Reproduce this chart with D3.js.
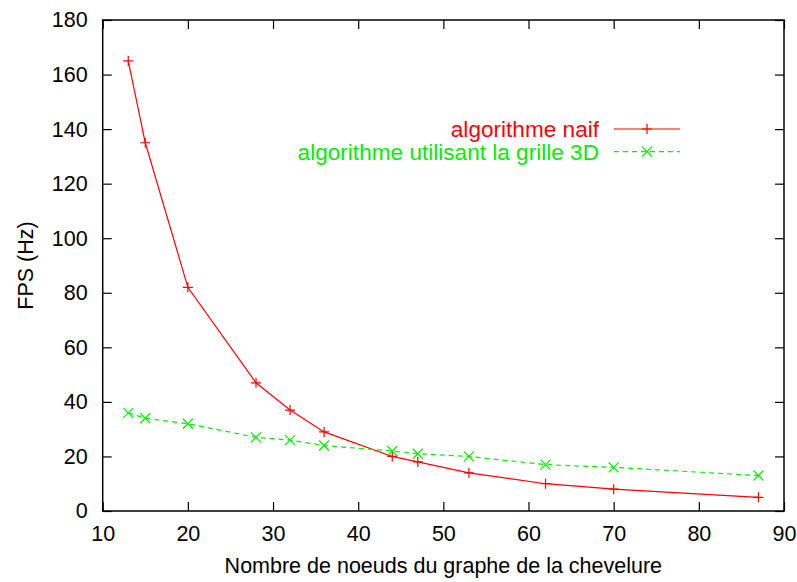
<!DOCTYPE html>
<html>
<head>
<meta charset="utf-8">
<script src="https://cdn.jsdelivr.net/npm/d3@7"></script>
<style>
  body { margin: 0; background: #fff; }
  text { font-family: "Liberation Sans", Arial, sans-serif; }
</style>
</head>
<body>
<svg id="chart" width="797" height="582"></svg>
<script>
// node counts along the x axis
const nodes = [13, 15, 20, 28, 32, 36, 44, 47, 53, 62, 70, 87];
// FPS values for each algorithm
const fps_naif = [165, 135, 82, 47, 37, 29, 20, 18, 14, 10, 8, 5];
const fps_grille = [36, 34, 32, 27, 26, 24, 22, 21, 20, 17, 16, 13];
const xTicks = [10, 20, 30, 40, 50, 60, 70, 80, 90];
const yTicks = [0, 20, 40, 60, 80, 100, 120, 140, 160, 180];
const series_names = ["algorithme naif", "algorithme utilisant la grille 3D"];

let svg = d3.select('#chart'),
	margin = {left: 102.7, right: 13, top: 20, bottom: 71},
	W = 797, H = 582,
	tickLen = 9,
	fontSize = 21.5,
	legendFont = 22.6,
	markSize = 5;

let x = d3.scaleLinear()
	.domain([10, 90])
	.range([margin.left, W - margin.right]);
let y = d3.scaleLinear()
	.domain([0, 180])
	.range([H - margin.bottom, margin.top]);

let series = [
	{name: series_names[0], values: fps_naif, color: '#ff0000', dash: null, mark: 'plus'},
	{name: series_names[1], values: fps_grille, color: '#00ee00', dash: '5,4', mark: 'cross'}
];

// axes: gnuplot style, ticks inward on all four sides
let x0 = x.range()[0], x1 = x.range()[1],
	y0 = y.range()[0], y1 = y.range()[1];

svg.append('g')
	.attr('transform', `translate(0, ${y0})`)
	.call(d3.axisBottom(x).tickValues(xTicks).tickSizeInner(-tickLen).tickSizeOuter(0).tickPadding(15))
	.call(g => g.select('.domain').remove());
svg.append('g')
	.attr('transform', `translate(0, ${y1})`)
	.call(d3.axisTop(x).tickValues(xTicks).tickSizeInner(-tickLen).tickSizeOuter(0).tickFormat(''))
	.call(g => g.select('.domain').remove());
svg.append('g')
	.attr('transform', `translate(${x0}, 0)`)
	.call(d3.axisLeft(y).tickValues(yTicks).tickSizeInner(-tickLen).tickSizeOuter(0).tickPadding(15))
	.call(g => g.select('.domain').remove());
svg.append('g')
	.attr('transform', `translate(${x1}, 0)`)
	.call(d3.axisRight(y).tickValues(yTicks).tickSizeInner(-tickLen).tickSizeOuter(0).tickFormat(''))
	.call(g => g.select('.domain').remove());

svg.selectAll('.tick line')
	.attr('stroke', '#000')
	.attr('stroke-width', 1.2);
svg.selectAll('.tick text')
	.attr('fill', '#000')
	.style('font-size', `${fontSize}px`)
	.style('font-family', '"Liberation Sans", Arial, sans-serif');

svg.append('rect')
	.attr('x', x0)
	.attr('y', y1)
	.attr('width', x1 - x0)
	.attr('height', y0 - y1)
	.attr('fill', 'none')
	.attr('stroke', '#000')
	.attr('stroke-width', 1.5);

// axis titles
svg.append('text')
	.attr('x', (x0 + x1) / 2)
	.attr('y', 573)
	.attr('text-anchor', 'middle')
	.style('font-size', `${fontSize}px`)
	.text('Nombre de noeuds du graphe de la chevelure');

svg.append('text')
	.attr('transform', `translate(33, ${(y0 + y1) / 2}) rotate(-90)`)
	.attr('text-anchor', 'middle')
	.style('font-size', `${fontSize}px`)
	.text('FPS (Hz)');

function draw_mark(g, type, cx, cy, color) {
	let s = markSize;
	let p = type == 'plus'
		? `M${cx - s},${cy}H${cx + s}M${cx},${cy - s}V${cy + s}`
		: `M${cx - s},${cy - s}L${cx + s},${cy + s}M${cx - s},${cy + s}L${cx + s},${cy - s}`;
	g.append('path')
		.attr('d', p)
		.attr('stroke', color)
		.attr('stroke-width', 1.2)
		.attr('fill', 'none');
}

let line = d3.line()
	.x(d => x(d[0]))
	.y(d => y(d[1]));

series.forEach((s, si) => {
	let pts = nodes.map((n, i) => [n, s.values[i]]);
	let g = svg.append('g').attr('class', 'series');

	g.append('path')
		.datum(pts)
		.attr('d', line)
		.attr('fill', 'none')
		.attr('stroke', s.color)
		.attr('stroke-width', 1.2)
		.attr('stroke-dasharray', s.dash);

	pts.forEach(d => draw_mark(g, s.mark, x(d[0]), y(d[1]), s.color));

	// legend entry
	let ly = 129 + si * 22.7;
	svg.append('text')
		.attr('x', 599)
		.attr('y', ly)
		.attr('dy', '0.35em')
		.attr('text-anchor', 'end')
		.attr('fill', s.color)
		.style('font-size', `${legendFont}px`)
		.text(s.name);
	svg.append('line')
		.attr('x1', 614)
		.attr('x2', 680)
		.attr('y1', ly)
		.attr('y2', ly)
		.attr('stroke', s.color)
		.attr('stroke-width', 1.2)
		.attr('stroke-dasharray', s.dash);
	draw_mark(svg, s.mark, 647, ly, s.color);
});
</script>
</body>
</html>
